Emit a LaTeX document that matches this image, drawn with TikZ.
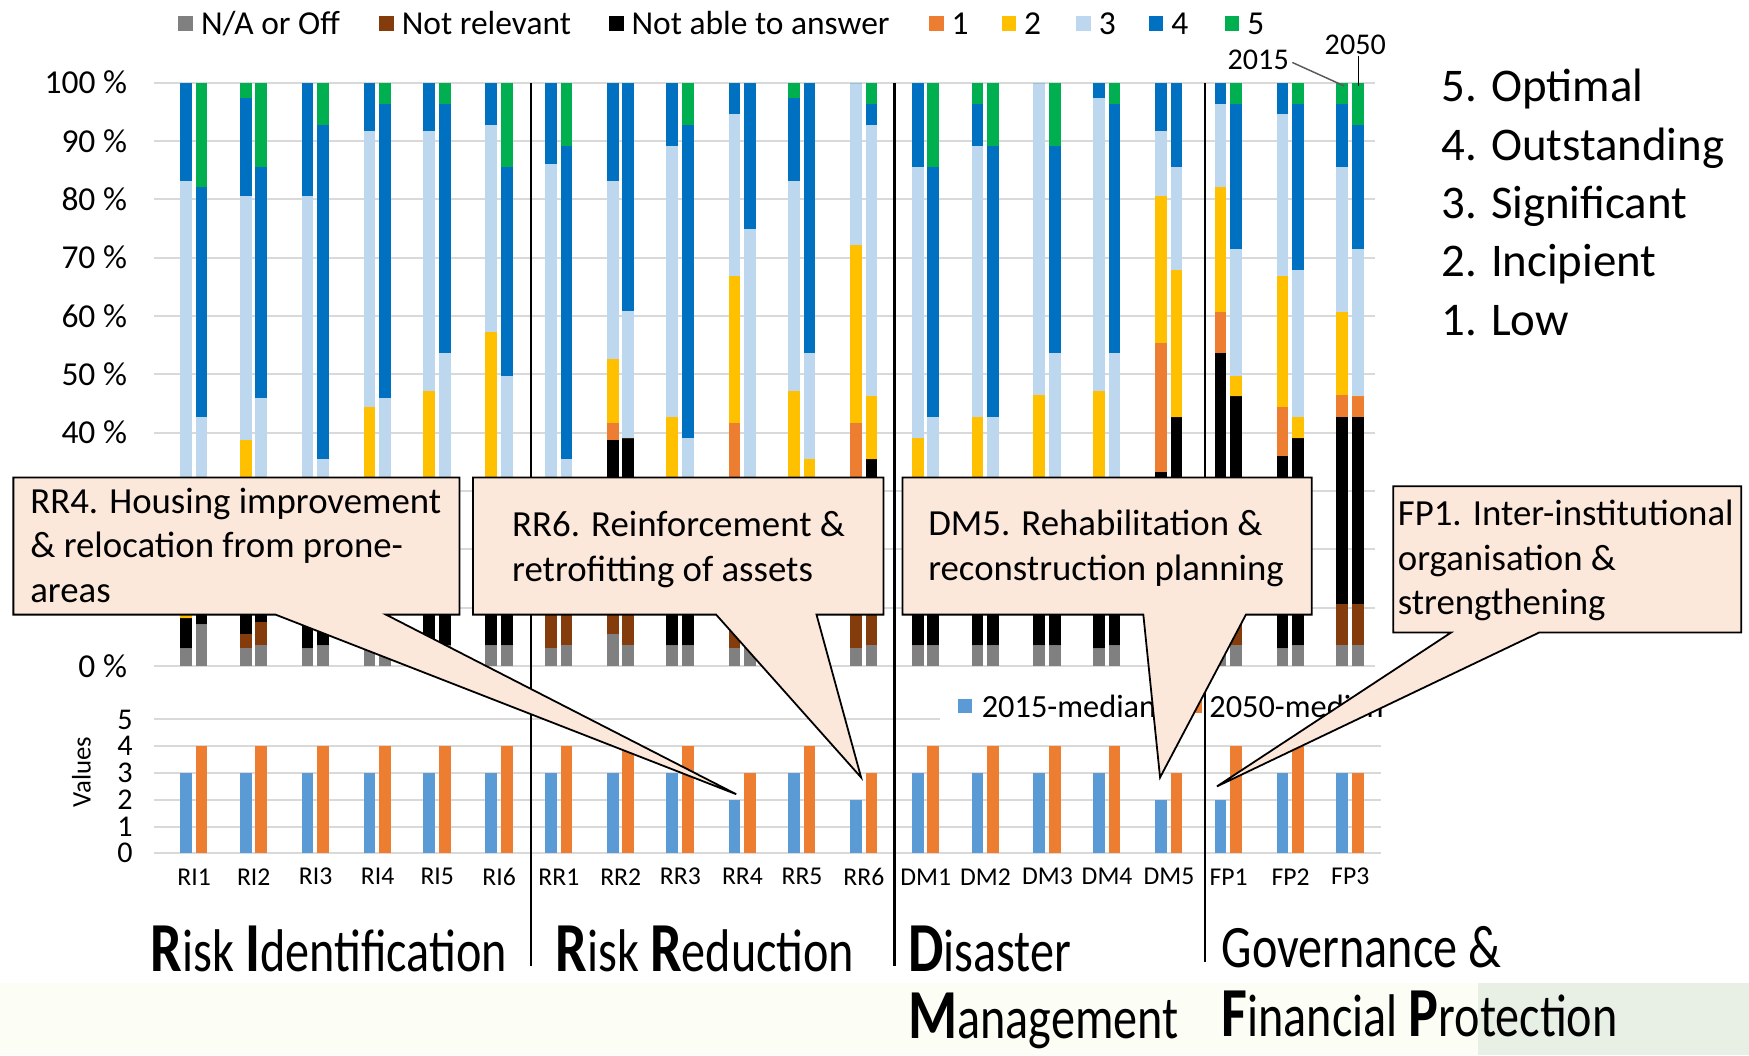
\documentclass[tikz,border=0pt]{standalone}
\usepackage{fontspec}
\setmainfont{Carlito}
\newfontfamily\condfont[FakeStretch=0.8]{Carlito}
\definecolor{cNA}{HTML}{808080}
\definecolor{cNR}{HTML}{843C0C}
\definecolor{cNAA}{HTML}{000000}
\definecolor{cOne}{HTML}{ED7D31}
\definecolor{cTwo}{HTML}{FFC000}
\definecolor{cThree}{HTML}{BDD7EE}
\definecolor{cFour}{HTML}{0070C0}
\definecolor{cFive}{HTML}{00B050}
\definecolor{cMedA}{HTML}{5B9BD5}
\definecolor{cMedB}{HTML}{ED7D31}
\definecolor{gridc}{HTML}{D9D9D9}
\definecolor{calloutc}{HTML}{FCE8DA}
\definecolor{cream}{HTML}{FCFDF4}
\definecolor{sage}{HTML}{E8F0E6}
% one coloured slice of a stacked bar: left x, colour, bottom %, top %
\newcommand\barseg[4]{\fill[#2] ({#1},{597-5.23*(#3)}) rectangle ({#1+10.5},{597-5.23*(#4)});}
% stacked bar: left x, then cumulative tops of N/A, not relevant, not able, 1..5
\newcommand\stackbar[9]{%
  \barseg{#1}{cNA}{0}{#2}\barseg{#1}{cNR}{#2}{#3}\barseg{#1}{cNAA}{#3}{#4}%
  \barseg{#1}{cOne}{#4}{#5}\barseg{#1}{cTwo}{#5}{#6}\barseg{#1}{cThree}{#6}{#7}%
  \barseg{#1}{cFour}{#7}{#8}\barseg{#1}{cFive}{#8}{#9}}
% enlarged bold initial in the group titles
\newcommand\capinit[1]{{\fontsize{63}{60}\selectfont\bfseries #1}}
\tikzset{
  legsq/.style={minimum size=13pt, inner sep=0pt, outer sep=0pt},
  legtext/.style={anchor=west, inner sep=0pt, font=\fontsize{30}{32}\selectfont},
  ylab/.style={anchor=east, inner sep=0pt, font=\fontsize{30}{32}\selectfont},
  axlab/.style={inner sep=0pt, font=\fontsize{23}{25}\selectfont},
  gridline/.style={gridc, line width=1.8pt},
  divider/.style={black, line width=2pt},
  bubble/.style={fill=calloutc, draw=black, line width=1.6pt, line join=miter},
  bubbletext/.style={anchor=north west, inner sep=0pt, align=left, font=\fontsize{33}{40}\selectfont},
  grouptitle/.style={anchor=base west, inner sep=0pt, font=\condfont\fontsize{54}{60}\selectfont},
}
\begin{document}
\begin{tikzpicture}[x=1pt,y=-1pt]
\useasboundingbox (0,0) rectangle (1568,946);
\fill[white] (0,0) rectangle (1568,946);
\fill[cream] (0,881) rectangle (1568,946);
\fill[sage] (1325,881) rectangle (1568,946);

% legend of the stacked bars
\node[legsq, fill=cNA] (sqNA) at (166.5,21) {};
\node[legtext] (lgNA) at (180,21) {N/A or Off};
\node[legsq, fill=cNR] (sqNR) at (346.5,21) {};
\node[legtext] (lgNR) at (360,21) {Not relevant};
\node[legsq, fill=cNAA] (sqNAA) at (552.5,21) {};
\node[legtext] (lgNAA) at (566,21) {Not able to answer};
\node[legsq, fill=cOne] (sqOne) at (839.5,21) {};
\node[legtext] (lgOne) at (853,21) {1};
\node[legsq, fill=cTwo] (sqTwo) at (904.5,21) {};
\node[legtext] (lgTwo) at (918,21) {2};
\node[legsq, fill=cThree] (sqThree) at (971.5,21) {};
\node[legtext] (lgThree) at (985,21) {3};
\node[legsq, fill=cFour] (sqFour) at (1036.5,21) {};
\node[legtext] (lgFour) at (1050,21) {4};
\node[legsq, fill=cFive] (sqFive) at (1104.5,21) {};
\node[legtext] (lgFive) at (1118,21) {5};

% percentage grid and axis labels
\foreach \k in {0,...,10} {
  \draw[gridline] (138,{597-52.3*\k}) -- (1233,{597-52.3*\k});
}
\foreach \k in {0,4,5,6,7,8,9,10} {
  \node[ylab] (pct\k) at (114,{597-52.3*\k}) {\the\numexpr\k*10\relax\ \%};
}

% Risk Identification
\stackbar{174-12.5}{3}{3}{8.3}{8.3}{9}{83.1}{100}{100}
\stackbar{174+1.5}{7.2}{7.2}{10.7}{10.7}{10.7}{42.6}{82.1}{100}
\stackbar{227.5-12.5}{3}{5.5}{10}{10}{38.7}{80.6}{97.3}{100}
\stackbar{227.5+1.5}{3.6}{7.5}{10.5}{10.5}{10.5}{46}{85.6}{100}
\stackbar{283-12.5}{3}{3}{10}{10}{10}{80.6}{100}{100}
\stackbar{283+1.5}{3.6}{3.6}{10}{10}{10}{35.5}{92.7}{100}
\stackbar{338.5-12.5}{3.6}{3.6}{7}{7}{44.3}{91.7}{100}{100}
\stackbar{338.5+1.5}{3.6}{3.6}{7}{7}{7}{46}{96.3}{100}
\stackbar{392-12.5}{3}{3}{10}{10}{47.1}{91.7}{100}{100}
\stackbar{392+1.5}{3.6}{3.6}{10}{10}{10}{53.6}{96.3}{100}
\stackbar{447.5-12.5}{3.6}{3.6}{10}{10}{57.2}{92.7}{100}{100}
\stackbar{447.5+1.5}{3.6}{3.6}{10}{10}{10}{49.7}{85.6}{100}
% Risk Reduction
\stackbar{501-12.5}{3}{11}{11}{11}{11}{86}{100}{100}
\stackbar{501+1.5}{3.6}{11}{11}{11}{11}{35.5}{89.2}{100}
\stackbar{556.5-12.5}{5.5}{10}{38.7}{41.6}{52.6}{83.1}{100}{100}
\stackbar{556.5+1.5}{3.6}{10}{39}{39}{39}{60.8}{100}{100}
\stackbar{610-12.5}{3.6}{3.6}{10}{10}{42.6}{89.2}{100}{100}
\stackbar{610+1.5}{3.6}{3.6}{10}{10}{10}{39}{92.7}{100}
\stackbar{665.6-12.5}{3}{10}{10}{41.6}{66.8}{94.6}{100}{100}
\stackbar{665.6+1.5}{3.6}{10}{10}{10}{10}{74.9}{100}{100}
\stackbar{719-12.5}{3.6}{10}{10}{10}{47.2}{83.1}{97.3}{100}
\stackbar{719+1.5}{3.6}{10}{10}{10}{35.5}{53.6}{100}{100}
\stackbar{774.5-12.5}{3}{10}{10}{41.6}{72.1}{100}{100}{100}
\stackbar{774.5+1.5}{3.6}{10}{35.5}{35.5}{46.2}{92.7}{96.3}{100}
% Disaster Management
\stackbar{830-12.5}{3.6}{3.6}{10}{10}{39}{85.6}{100}{100}
\stackbar{830+1.5}{3.6}{3.6}{10}{10}{10}{42.6}{85.6}{100}
\stackbar{883.5-12.5}{3.6}{3.6}{10}{10}{42.6}{89.2}{96.3}{100}
\stackbar{883.5+1.5}{3.6}{3.6}{10}{10}{10}{42.6}{89.2}{100}
\stackbar{939-12.5}{3.6}{3.6}{10}{10}{46.4}{100}{100}{100}
\stackbar{939+1.5}{3.6}{3.6}{10}{10}{10}{53.6}{89.2}{100}
\stackbar{992.5-12.5}{3}{3}{10}{10}{47.2}{97.3}{100}{100}
\stackbar{992.5+1.5}{3.6}{3.6}{10}{10}{10}{53.6}{96.3}{100}
\stackbar{1048-12.5}{3.6}{10}{33.3}{55.3}{80.6}{91.7}{100}{100}
\stackbar{1048+1.5}{3.6}{10}{42.6}{42.6}{67.8}{85.6}{100}{100}
% Governance & Financial Protection
\stackbar{1101.5-12.5}{3}{10}{53.6}{60.7}{82.1}{96.3}{100}{100}
\stackbar{1101.5+1.5}{3.6}{10}{46.2}{46.2}{49.7}{71.4}{96.3}{100}
\stackbar{1157-12.5}{3}{3}{35.9}{44.3}{66.8}{94.6}{100}{100}
\stackbar{1157+1.5}{3.6}{3.6}{39}{39}{42.6}{67.8}{96.3}{100}
\stackbar{1210.5-12.5}{3.6}{10.7}{42.6}{46.4}{60.7}{85.6}{96.3}{100}
\stackbar{1210.5+1.5}{3.6}{10.7}{42.6}{46.2}{46.2}{71.4}{92.7}{100}

% year pointers on the last pair
\coordinate (top2015) at (1205,77);
\coordinate (top2050) at (1218,77);
\node[inner sep=0pt, font=\fontsize{27}{29}\selectfont] (yr2015) at (1128,54) {2015};
\node[inner sep=0pt, font=\fontsize{27}{29}\selectfont] (yr2050) at (1215,40) {2050};
\draw[black!65, line width=1.3pt] (yr2015.east) ++(3,2) -- (top2015);
\draw[black, line width=1.3pt] (yr2050.south) ++(3,1) -- (top2050);

% maturity scale
\node[anchor=north west, inner sep=0pt, align=left, font=\fontsize{42}{52.3}\selectfont] (scale) at (1292,62)
  {5. Optimal\\4. Outstanding\\3. Significant\\2. Incipient\\1. Low};

% median chart
\foreach \k in {0,...,5} {
  \draw[gridline] (138,{765-24*\k}) -- (1238,{765-24*\k});
  \node[inner sep=0pt, font=\fontsize{27}{29}\selectfont] (val\k) at (112,{765-24*\k}) {\k};
}
\node[rotate=90, inner sep=0pt, font=\fontsize{24}{26}\selectfont] (valuesaxis) at (73,692) {Values};
\foreach \c/\lab/\va/\vb in {174/RI1/3/4, 227.5/RI2/3/4, 283/RI3/3/4, 338.5/RI4/3/4, 392/RI5/3/4, 447.5/RI6/3/4,
  501/RR1/3/4, 556.5/RR2/3/4, 610/RR3/3/4, 665.6/RR4/2/3, 719/RR5/3/4, 774.5/RR6/2/3,
  830/DM1/3/4, 883.5/DM2/3/4, 939/DM3/3/4, 992.5/DM4/3/4, 1048/DM5/2/3,
  1101.5/FP1/2/4, 1157/FP2/3/4, 1210.5/FP3/3/3} {
  \fill[cMedA] ({\c-12.5},765) rectangle ({\c-2},{765-24*\va});
  \fill[cMedB] ({\c+1.5},765) rectangle ({\c+12},{765-24*\vb});
  \node[axlab] (x\lab) at (\c,786) {\lab};
}
\fill[white] (843,622) rectangle (1246,648);
\node[legsq, fill=cMedA] (sqMedA) at (865,633) {};
\node[legtext, font=\fontsize{29}{31}\selectfont] (lgMedA) at (880,633) {2015-median};
\node[legsq, fill=cMedB] (sqMedB) at (1071,633) {};
\node[legtext, font=\fontsize{29}{31}\selectfont] (lgMedB) at (1084,633) {2050-median};

% group dividers
\draw[divider] (476,74) -- (476,866);
\draw[divider] (802,74) -- (802,866);
\draw[divider] (1080,74) -- (1080,862);

% callouts
\coordinate (tipRRfour) at (660,712);
\coordinate (tipRRsix) at (772,697);
\coordinate (tipDMfive) at (1040,697);
\coordinate (tipFPone) at (1091,705);
\filldraw[bubble] (12,428) -- (412,428) -- (412,551) -- (346,551) -- (tipRRfour) -- (247,551) -- (12,551) -- cycle;
\filldraw[bubble] (424,428) -- (792,428) -- (792,551) -- (732,551) -- (tipRRsix) -- (642,551) -- (424,551) -- cycle;
\filldraw[bubble] (809,428) -- (1176,428) -- (1176,551) -- (1117,551) -- (tipDMfive) -- (1025,551) -- (809,551) -- cycle;
\filldraw[bubble] (1249,436) -- (1561,436) -- (1561,567) -- (1380,567) -- (tipFPone) -- (1301,567) -- (1249,567) -- cycle;
\node[bubbletext] (txtRRfour) at (27,437) {RR4. Housing improvement\\\& relocation from prone-\\areas};
\node[bubbletext] (txtRRsix) at (459,458) {RR6. Reinforcement \&\\retrofitting of assets};
\node[bubbletext] (txtDMfive) at (832,457) {DM5. Rehabilitation \&\\reconstruction planning};
\node[bubbletext] (txtFPone) at (1253,448) {FP1. Inter-institutional\\organisation \&\\strengthening};

% group titles
\node[grouptitle] (tRI) at (135,871) {\capinit{R}isk \capinit{I}dentification};
\node[grouptitle] (tRR) at (498,871) {\capinit{R}isk \capinit{R}eduction};
\node[grouptitle] (tDMa) at (814,871) {\capinit{D}isaster};
\node[grouptitle] (tDMb) at (814,931) {\capinit{M}anagement};
\node[grouptitle] (tFPa) at (1095,867) {Governance \&};
\node[grouptitle] (tFPb) at (1095,929) {\capinit{F}inancial \capinit{P}rotection};
\end{tikzpicture}
\end{document}
